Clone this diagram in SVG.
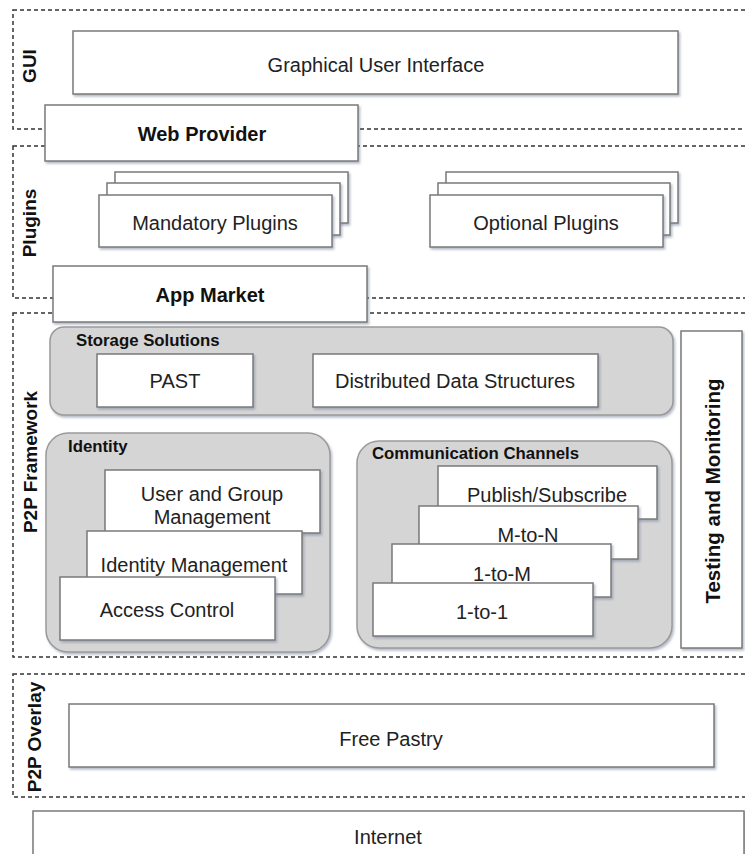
<svg xmlns="http://www.w3.org/2000/svg" width="745" height="854" viewBox="0 0 745 854">
<defs>
<filter id="sh" x="-10%" y="-10%" width="130%" height="140%">
<feDropShadow dx="1.5" dy="2" stdDeviation="1.2" flood-color="#7d87a0" flood-opacity="0.55"/>
</filter>
<style>
.layer{fill:none;stroke:#333;stroke-width:1.5;stroke-dasharray:4 3}
.box{fill:#fff;stroke:#7a7a7a;stroke-width:1.5;filter:url(#sh)}
.grp{fill:#d5d5d5;stroke:#9a9a9a;stroke-width:1.5;filter:url(#sh)}
.t{font-family:"Liberation Sans",Arial,sans-serif;font-size:20px;fill:#222;text-anchor:middle}
.tb{font-family:"Liberation Sans",Arial,sans-serif;font-size:20px;font-weight:bold;fill:#111;text-anchor:middle}
.tl{font-family:"Liberation Sans",Arial,sans-serif;font-size:19px;font-weight:bold;fill:#111;text-anchor:middle}
.tg{font-family:"Liberation Sans",Arial,sans-serif;font-size:16.8px;font-weight:bold;fill:#111}
</style>
</defs>
<rect width="745" height="854" fill="#fff"/>

<g id="layer-gui">
<rect class="layer" x="13" y="10" width="760" height="119"/>
<text class="tl" transform="translate(36,66) rotate(-90)">GUI</text>
</g>
<g id="layer-plugins">
<rect class="layer" x="13" y="146" width="760" height="152"/>
<text class="tl" transform="translate(36,223) rotate(-90)">Plugins</text>
</g>
<g id="layer-framework">
<rect class="layer" x="13" y="313" width="760" height="344"/>
<text class="tl" transform="translate(37,462) rotate(-90)">P2P Framework</text>
</g>
<g id="layer-overlay">
<rect class="layer" x="13" y="674" width="760" height="123"/>
<text class="tl" transform="translate(41,737) rotate(-90)">P2P Overlay</text>
</g>

<g id="gui">
<rect class="box" x="73" y="31" width="605" height="63"/>
<text class="t" x="376" y="72">Graphical User Interface</text>
</g>
<g id="web-provider">
<rect class="box" x="45" y="105" width="313" height="56"/>
<text class="tb" x="202" y="141">Web Provider</text>
</g>
<g id="mandatory-plugins">
<rect class="box" x="115" y="172" width="233" height="51"/>
<rect class="box" x="107" y="183" width="233" height="52"/>
<rect class="box" x="99" y="195" width="233" height="52"/>
<text class="t" x="215" y="230">Mandatory Plugins</text>
</g>
<g id="optional-plugins">
<rect class="box" x="446" y="172" width="232" height="51"/>
<rect class="box" x="438" y="183" width="232" height="52"/>
<rect class="box" x="430" y="195" width="233" height="52"/>
<text class="t" x="546" y="230">Optional Plugins</text>
</g>
<g id="app-market">
<rect class="box" x="53" y="266" width="314" height="56"/>
<text class="tb" x="210" y="302">App Market</text>
</g>

<g id="storage">
<rect class="grp" x="50" y="327" width="623" height="88" rx="14"/>
<text class="tg" x="76" y="346">Storage Solutions</text>
<g id="past">
<rect class="box" x="97" y="354" width="156" height="53"/>
<text class="t" x="175" y="388">PAST</text>
</g>
<g id="dds">
<rect class="box" x="313" y="354" width="285" height="53"/>
<text class="t" x="455" y="388">Distributed Data Structures</text>
</g>
</g>

<g id="identity">
<rect class="grp" x="46" y="433" width="284" height="219" rx="22"/>
<text class="tg" x="68" y="452">Identity</text>
<g id="user-group">
<rect class="box" x="105" y="470" width="215" height="63"/>
<text class="t" x="212" y="501">User and Group</text>
<text class="t" x="212" y="524">Management</text>
</g>
<g id="identity-mgmt">
<rect class="box" x="87" y="531" width="215" height="63"/>
<text class="t" x="194" y="572">Identity Management</text>
</g>
<g id="access-control">
<rect class="box" x="60" y="577" width="215" height="63"/>
<text class="t" x="167" y="617">Access Control</text>
</g>
</g>

<g id="comm">
<rect class="grp" x="357" y="441" width="315" height="207" rx="22"/>
<text class="tg" x="372" y="459">Communication Channels</text>
<g id="pubsub">
<rect class="box" x="438" y="466" width="219" height="53"/>
<text class="t" x="547" y="502">Publish/Subscribe</text>
</g>
<g id="m-to-n">
<rect class="box" x="419" y="506" width="219" height="53"/>
<text class="t" x="528" y="542">M-to-N</text>
</g>
<g id="one-to-m">
<rect class="box" x="392" y="544" width="219" height="53"/>
<text class="t" x="502" y="581">1-to-M</text>
</g>
<g id="one-to-one">
<rect class="box" x="373" y="583" width="220" height="53"/>
<text class="t" x="482" y="619">1-to-1</text>
</g>
</g>

<g id="testing">
<rect class="box" x="681" y="331" width="61" height="317"/>
<text class="tl" style="font-size:20.5px" transform="translate(720,491) rotate(-90)">Testing and Monitoring</text>
</g>

<g id="free-pastry">
<rect class="box" x="69" y="704" width="645" height="63"/>
<text class="t" x="391" y="746">Free Pastry</text>
</g>
<g id="internet">
<rect class="box" x="33" y="811" width="711" height="60"/>
<text class="t" x="388" y="844">Internet</text>
</g>

<g id="connectors"></g>
</svg>
